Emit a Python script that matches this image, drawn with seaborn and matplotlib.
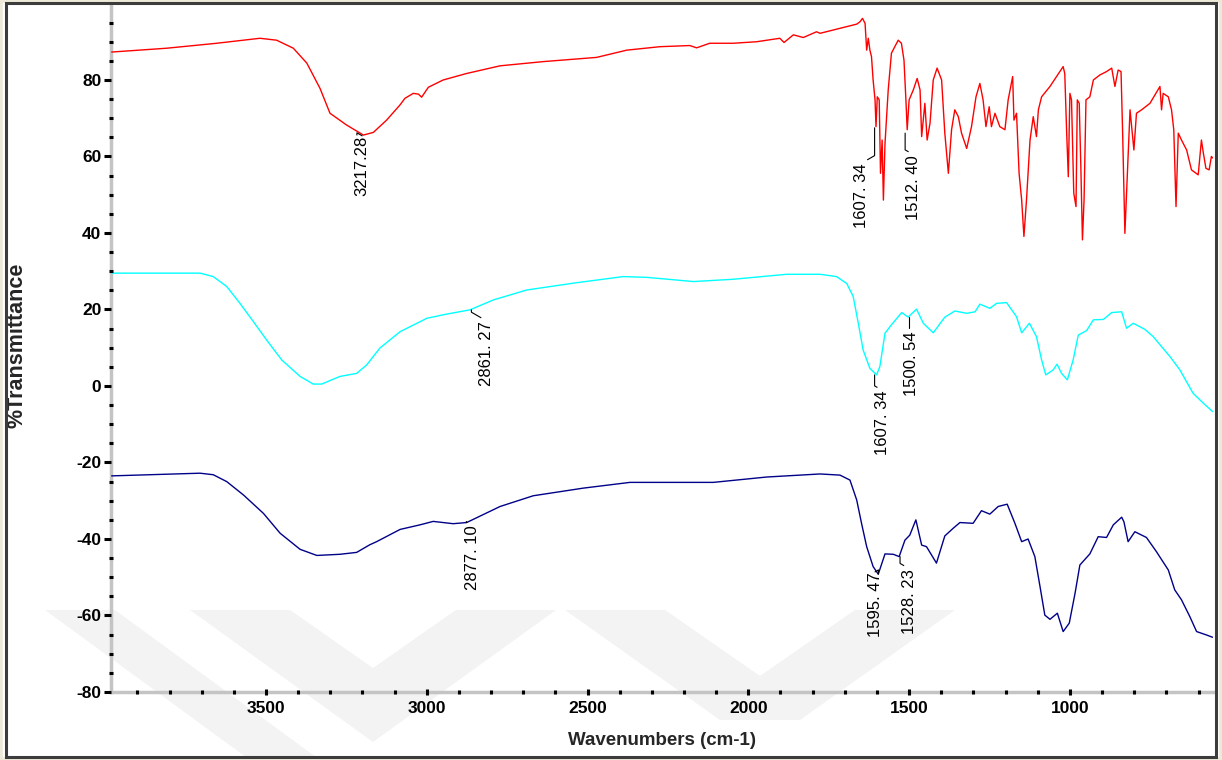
import numpy as np
import pandas as pd
import matplotlib
matplotlib.use("Agg")
import matplotlib.pyplot as plt
from matplotlib.ticker import MultipleLocator
from matplotlib.patches import Rectangle, Polygon
from matplotlib.transforms import Affine2D
import seaborn as sns

# --- spectra (wavenumber cm-1, %T) ---
red_wn = [3980, 3809, 3653, 3519, 3467, 3415, 3373, 3332, 3301, 3249, 3197, 3166, 3125,
          3083, 3068, 3042, 3026, 3016, 2995, 2949, 2876, 2772, 2638, 2472, 2378, 2275,
          2182, 2161, 2120, 2047, 1974, 1902, 1889, 1860, 1829, 1788, 1777, 1715, 1663,
          1653, 1645, 1637, 1632, 1627, 1622, 1617, 1612, 1606, 1603, 1599, 1593, 1589,
          1584, 1580, 1575, 1565, 1555, 1534, 1524, 1516, 1510, 1506, 1500, 1487, 1475,
          1466, 1461, 1451, 1444, 1435, 1425, 1413, 1399, 1389, 1378, 1368, 1358, 1347,
          1337, 1321, 1306, 1292, 1280, 1270, 1261, 1251, 1244, 1233, 1218, 1202, 1192,
          1178, 1174, 1166, 1158, 1150, 1143, 1135, 1124, 1114, 1104, 1098, 1088, 1062,
          1021, 1016, 1010, 1005, 1000, 995, 988, 981, 977, 971, 966, 961, 956, 950, 938,
          927, 907, 886, 870, 860, 850, 841, 836, 829, 822, 813, 808, 801, 793, 777, 751,
          720, 715, 710, 694, 684, 677, 670, 663, 653, 637, 622, 601, 591, 585, 577, 567,
          560, 556]
red_t = [87.3, 88.3, 89.6, 90.9, 90.4, 88.3, 84.4, 77.8, 71.3, 68.2, 65.6, 66.3, 69.5,
         73.5, 75.2, 76.5, 76.3, 75.5, 78.1, 80.0, 81.7, 83.7, 84.8, 85.9, 87.8, 88.7,
         89.0, 88.4, 89.6, 89.6, 90.0, 90.9, 89.8, 91.8, 91.1, 92.6, 92.2, 93.5, 94.6,
         95.2, 96.1, 94.8, 87.8, 90.9, 87.8, 86.1, 80.0, 74.8, 67.8, 75.6, 74.8, 55.6,
         64.3, 48.6, 63.4, 77.4, 87.0, 90.4, 89.6, 85.2, 74.8, 67.0, 74.8, 77.4, 80.4,
         77.4, 65.2, 73.9, 64.3, 68.7, 80.0, 83.1, 80.0, 66.1, 55.6, 67.0, 72.2, 70.4,
         66.1, 62.1, 67.8, 75.6, 79.1, 74.8, 67.8, 73.0, 67.8, 71.3, 67.8, 67.0, 74.8,
         80.9, 69.5, 71.3, 55.6, 48.6, 39.1, 48.6, 64.3, 70.4, 65.2, 72.2, 75.6, 78.3,
         83.5, 81.7, 66.1, 54.7, 76.5, 74.8, 50.4, 46.9, 74.8, 73.9, 57.3, 38.2, 48.6, 74.8, 75.6,
         80.0, 81.3, 82.2, 83.1, 78.3, 82.6, 82.2, 66.1, 39.9, 53.9, 72.2, 67.8, 61.7, 71.3, 72.2, 73.9,
         78.3, 72.2, 76.5, 75.6, 72.2, 67.0, 46.9, 66.1, 64.3, 61.7, 56.5, 55.2, 64.3, 60.9, 56.9, 56.5,
         60.0, 59.6]

cyan_wn = [3980, 3705, 3664, 3622, 3581, 3539, 3498, 3451, 3394, 3353, 3327, 3270, 3218,
           3187, 3146, 3083, 3021, 3000, 2938, 2866, 2793, 2689, 2534, 2389, 2316, 2171,
           2047, 1881, 1777, 1726, 1694, 1674, 1658, 1643, 1622, 1601, 1591, 1575, 1555,
           1523, 1503, 1477, 1456, 1425, 1389, 1358, 1321, 1295, 1280, 1249, 1228, 1197,
           1166, 1150, 1126, 1104, 1088, 1075, 1052, 1040, 1026, 1008, 990, 974, 948, 927,
           896, 870, 839, 824, 803, 767, 741, 689, 658, 617, 585, 556]
cyan_t = [29.5, 29.5, 28.6, 26.0, 21.6, 16.8, 12.0, 6.8, 2.5, 0.5, 0.5, 2.5, 3.3,
          5.5, 9.9, 14.2, 16.8, 17.7, 18.8, 19.9, 22.5, 25.1, 27.0, 28.6, 28.4, 27.3,
          27.9, 29.2, 29.2, 28.6, 26.8, 23.4, 16.4, 9.4, 4.6, 2.9, 5.1, 13.8, 16.0,
          19.2, 18.0, 20.1, 16.4, 13.9, 18.0, 19.6, 19.0, 19.4, 21.4, 20.3, 21.6, 21.8,
          18.1, 13.9, 16.4, 12.9, 6.8, 2.9, 4.2, 5.7, 3.3, 1.6, 6.8, 13.3, 14.5, 17.3,
          17.4, 19.2, 19.4, 15.1, 16.4, 14.8, 12.9, 7.7, 4.2, -1.9, -4.5, -6.7]

navy_wn = [3980, 3705, 3664, 3622, 3570, 3508, 3456, 3394, 3342, 3270, 3218, 3177, 3156,
           3083, 3021, 2980, 2949, 2918, 2876, 2772, 2669, 2513, 2368, 2109, 1943, 1777,
           1715, 1684, 1663, 1648, 1632, 1612, 1596, 1575, 1549, 1531, 1513, 1498, 1479,
           1461, 1446, 1415, 1389, 1363, 1342, 1301, 1275, 1249, 1223, 1195, 1171, 1150,
           1130, 1109, 1093, 1078, 1062, 1039, 1021, 1002, 984, 969, 938, 912, 886, 865,
           839, 832, 819, 798, 762, 731, 694, 674, 653, 627, 606, 575, 556]
navy_t = [-23.5, -22.8, -23.2, -25.0, -28.5, -33.3, -38.5, -42.7, -44.3, -44.0, -43.5, -41.5, -40.7,
          -37.5, -36.3, -35.4, -35.7, -36.0, -35.7, -31.5, -28.7, -26.7, -25.2, -25.2, -23.8, -23.0,
          -23.3, -24.6, -29.8, -35.9, -42.0, -47.2, -49.2, -43.9, -44.0, -44.6, -40.3, -39.0, -35.0,
          -41.6, -42.0, -46.3, -39.2, -37.2, -35.7, -35.9, -32.6, -33.5, -31.5, -30.9, -35.9, -40.7,
          -40.0, -44.6, -52.4, -59.9, -61.0, -59.4, -64.2, -62.0, -54.2, -46.8, -43.9, -39.4, -39.6, -36.3,
          -34.3, -35.5, -40.7, -38.1, -39.6, -43.3, -48.1, -53.3, -55.9, -60.3, -64.2, -65.1, -65.7]

# peak labels: text, peak position, text position (top of rotated text), leader angle
peak_text = ["3217.28", "1607. 34", "1512. 40", "2861. 27", "1607. 34", "1500. 54",
             "2877. 10", "1595. 47", "1528. 23"]
peak_wn = [3217.28, 1607.34, 1512.40, 2861.27, 1607.34, 1500.54, 2877.10, 1595.47, 1528.23]
peak_t = [65.6, 67.5, 66.1, 19.9, 2.9, 18.0, -35.7, -49.2, -44.6]
label_wn = [3201, 1647, 1485, 2814, 1582, 1494, 2858, 1606, 1499]
label_t = [65.4, 58.3, 60.4, 17.0, -1.2, 14.4, -36.4, -48.6, -47.8]
leader_ang = [-30, 30, -30, -30, -30, -30, -30, 30, -30]

sns.set_theme(style="white")
plt.rcParams["font.family"] = ["Liberation Sans", "DejaVu Sans"]
plt.rcParams["axes.unicode_minus"] = False

fig = plt.figure(figsize=(12.22, 7.6), dpi=100)

# faint watermark chevrons behind the plot (figure pixels, y from top)
px = Affine2D().scale(1 / 1222, -1 / 760).translate(0, 1) + fig.transFigure
marks = [
    [(45, 610), (115, 610), (320, 760), (250, 760)],
    [(190, 610), (290, 610), (373, 668), (456, 610), (556, 610), (373, 742)],
    [(565, 610), (665, 610), (760, 676), (855, 610), (955, 610), (800, 720), (720, 720)],
]
for m in marks:
    fig.patches.append(Polygon(m, closed=True, transform=px, facecolor="#f3f3f3",
                               edgecolor="none", zorder=-1))

ax = fig.add_axes([111 / 1222, 1 - 692 / 760, 1102 / 1222, 687 / 760])
ax.set_facecolor("none")
ax.set_axisbelow(False)

series = [(red_wn, red_t, "#ff0000"), (cyan_wn, cyan_t, "#00ffff"), (navy_wn, navy_t, "#000088")]
for wn, t, col in series:
    df = pd.DataFrame({"wn": wn, "t": t})
    sns.lineplot(data=df, x="wn", y="t", color=col, lw=1.0, estimator=None, sort=False, ax=ax)

for txt, pw, pt, tw, tt, ang in zip(peak_text, peak_wn, peak_t, label_wn, label_t, leader_ang):
    ax.annotate(txt, xy=(pw, pt), xytext=(tw, tt), rotation=90, ha="center", va="top",
                fontsize=12, color="black",
                arrowprops=dict(arrowstyle="-", lw=0.8, color="black", shrinkA=0, shrinkB=0,
                                relpos=(0.5, 1.0),
                                connectionstyle=f"angle,angleA={ang},angleB=90,rad=0"))

ax.set_xlim(3982, 555)
ax.set_ylim(-80, 99.6)
ax.xaxis.set_major_locator(MultipleLocator(500))
ax.xaxis.set_minor_locator(MultipleLocator(100))
ax.yaxis.set_major_locator(MultipleLocator(20))
ax.yaxis.set_minor_locator(MultipleLocator(5))

for s in ["top", "right"]:
    ax.spines[s].set_visible(False)
for s in ["left", "bottom"]:
    ax.spines[s].set_color("#c4c4c4")
    ax.spines[s].set_linewidth(2.5)
    ax.spines[s].set_zorder(1)

ax.tick_params(which="both", bottom=True, left=True, top=False, right=False)
ax.tick_params(axis="both", which="major", colors="black", width=2.2, labelsize=12.5)
ax.tick_params(axis="x", which="major", direction="inout", length=5, pad=4)
ax.tick_params(axis="y", which="major", direction="out", length=5, pad=2)
ax.tick_params(axis="both", which="minor", direction="inout", length=2.2, width=2.2, color="black")
for lab in ax.get_xticklabels() + ax.get_yticklabels():
    lab.set_fontweight("bold")

ax.set_xlabel("Wavenumbers (cm-1)", fontsize=13.5, fontweight="bold")
ax.set_ylabel("%Transmittance", fontsize=15.5, fontweight="bold")
ax.xaxis.set_label_coords(0.5, -0.058)
ax.yaxis.set_label_coords(-0.076, 0.505)

# outer frame
fig.patches.append(Rectangle((0, 0), 1, 1, transform=fig.transFigure, fill=False,
                             edgecolor="#ece9d8", lw=4, zorder=5))
fig.patches.append(Rectangle((6 / 1222, 3 / 760), 1210 / 1222, 754 / 760, transform=fig.transFigure,
                             fill=False, edgecolor="#3c3c3c", lw=2.2, zorder=6))

fig.savefig("out.png", dpi=100)
